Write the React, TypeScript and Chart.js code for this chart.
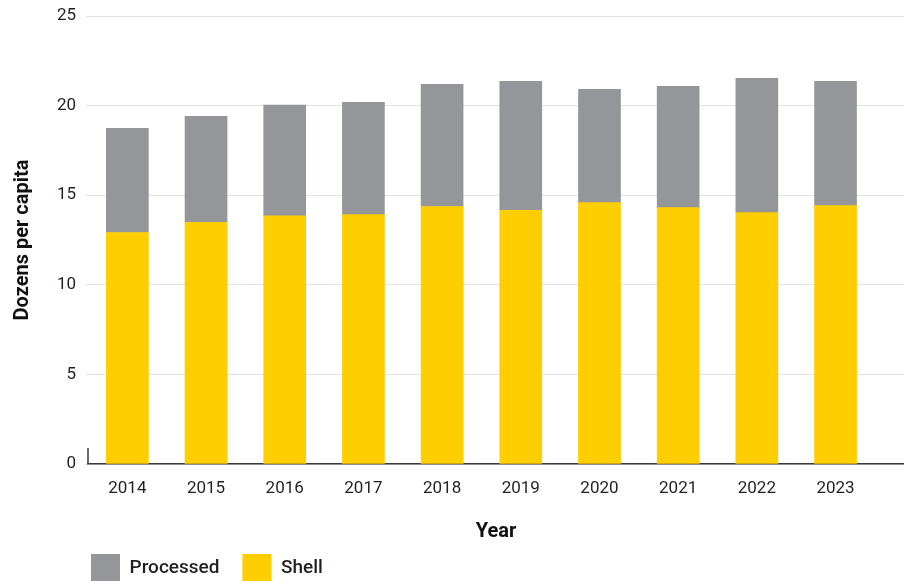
import React, { useEffect, useRef } from "react";
import { Chart, registerables } from "chart.js";

Chart.register(...registerables);

const years = [2014, 2015, 2016, 2017, 2018, 2019, 2020, 2021, 2022, 2023];
const shell = [12.92, 13.48, 13.85, 13.92, 14.37, 14.15, 14.59, 14.31, 14.03, 14.42];
const processed = [5.81, 5.92, 6.18, 6.26, 6.82, 7.2, 6.32, 6.77, 7.49, 6.93];
const yTicks = [0, 5, 10, 15, 20, 25];

const GREY = "#959699";
const YELLOW = "#FFCE00";
const TEXT = "#231F20";

const extras = {
  id: "extras",
  afterLayout(chart: any) {
    const lg = chart.legend;
    if (lg) {
      const h = lg.bottom - lg.top;
      lg.left = 68;
      lg.top = 531;
      lg.bottom = 531 + h;
    }
  },
  afterDatasetsDraw(chart: any) {
    const { ctx, chartArea } = chart;
    ctx.save();
    ctx.strokeStyle = "#3a3a3a";
    ctx.lineWidth = 1.5;
    ctx.beginPath();
    ctx.moveTo(chartArea.left, chartArea.bottom - 16);
    ctx.lineTo(chartArea.left, chartArea.bottom);
    ctx.stroke();
    ctx.restore();
  },
};

export default function App() {
  const ref = useRef<HTMLCanvasElement | null>(null);
  useEffect(() => {
    if (!ref.current) return;
    const chart = new Chart(ref.current, {
      type: "bar",
      data: {
        datasets: [
          {
            label: "Shell",
            data: years.map((y, i) => ({ x: y, y: shell[i] })),
            backgroundColor: YELLOW,
            barThickness: 42,
          },
          {
            label: "Processed",
            data: years.map((y, i) => ({ x: y, y: processed[i] })),
            backgroundColor: GREY,
            barThickness: 42,
          },
        ],
      },
      plugins: [extras],
      options: {
        animation: false,
        responsive: true,
        maintainAspectRatio: false,
        layout: { padding: { top: 16, right: 0, left: 0, bottom: 0 } },
        plugins: {
          tooltip: { enabled: false },
          legend: {
            position: "bottom",
            align: "start",
            reverse: true,
            labels: {
              boxWidth: 29,
              boxHeight: 28,
              padding: 23,
              color: TEXT,
              font: { family: "Roboto", size: 19, weight: 500 },
            },
          },
        },
        scales: {
          x: {
            type: "linear",
            stacked: true,
            offset: false,
            min: 2013.5,
            max: 2023.87,
            afterBuildTicks: (scale: any) => {
              scale.ticks = years.map((v) => ({ value: v }));
            },
            afterFit: (scale: any) => {
              scale.height = 80;
            },
            grid: { display: false, drawTicks: false, offset: false },
            border: { display: true, color: "#3a3a3a", width: 1.5 },
            ticks: {
              padding: 15,
              color: TEXT,
              font: { family: "Roboto", size: 17 },
              maxRotation: 0,
              autoSkip: false,
              callback: (v: any) => String(v),
            },
            title: {
              display: true,
              text: "Year",
              color: "#111",
              font: { family: "Roboto", size: 20, weight: "bold" },
              padding: { top: 0, bottom: 0 },
            },
          },
          y: {
            stacked: true,
            min: 0,
            max: 25,
            afterBuildTicks: (scale: any) => {
              scale.ticks = yTicks.map((v) => ({ value: v }));
            },
            afterFit: (scale: any) => {
              scale.width = 88;
              scale.paddingTop = 0;
              scale.paddingBottom = 0;
            },
            grid: { color: "#e2e2e2", lineWidth: 1, tickLength: 2 },
            border: { display: false },
            ticks: {
              padding: 10,
              color: TEXT,
              font: { family: "Roboto", size: 17 },
            },
            title: {
              display: true,
              text: "Dozens per capita",
              color: "#111",
              font: { family: "Roboto", size: 20, weight: "bold" },
              padding: { top: 11, bottom: 0 },
            },
          },
        },
      },
    });
    return () => chart.destroy();
  }, []);
  return (
    <div style={{ position: "absolute", left: 0, top: 0, width: 904, height: 605 }}>
      <canvas ref={ref} />
    </div>
  );
}
